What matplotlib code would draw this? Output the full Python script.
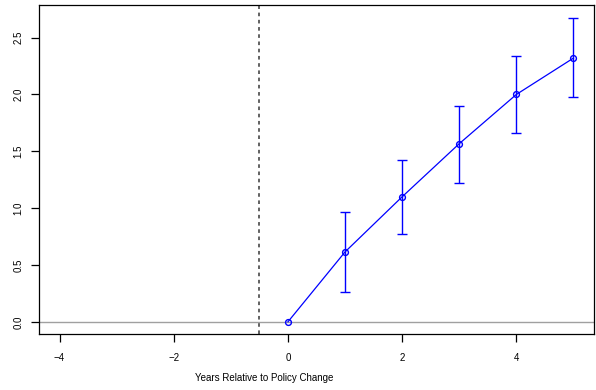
import matplotlib
matplotlib.use("Agg")
import matplotlib.pyplot as plt

plt.rcParams['font.family'] = ['Liberation Sans', 'DejaVu Sans']

# Event-study estimates by year relative to the policy change
years = [0, 1, 2, 3, 4, 5]
estimate = [0.0, 0.615, 1.10, 1.567, 2.00, 2.32]
ci_low = [None, 0.265, 0.775, 1.225, 1.66, 1.98]
ci_high = [None, 0.965, 1.425, 1.90, 2.34, 2.67]
x_ticks = [-4, -2, 0, 2, 4]
y_ticks = [0.0, 0.5, 1.0, 1.5, 2.0, 2.5]
policy_line = -0.5

fig = plt.figure(figsize=(5.96, 3.90), dpi=100)
ax = fig.add_axes([39/596, (390-334)/390, 555/596, 329/390])

ax.axhline(0, color='#a0a0a0', lw=1.0, zorder=1)
ax.axvline(policy_line, color='#555555', lw=1.3, ls=(0, (2, 2)), zorder=1)

ax.plot(years, estimate, color='blue', lw=0.9, marker='o', ms=4.2,
        mfc='none', mec='blue', mew=1.0, zorder=3)

for x, lo, hi in zip(years, ci_low, ci_high):
    if lo is None:
        continue
    ax.errorbar([x], [(lo + hi) / 2], yerr=[[(hi - lo) / 2], [(hi - lo) / 2]],
                fmt='none', ecolor='blue', elinewidth=1.0, capsize=3.5,
                capthick=1.0, zorder=2)

ax.set_xlim(-4.36, 5.36)
ax.set_ylim(-0.107, 2.787)
ax.set_xticks(x_ticks)
ax.set_xticklabels([f"{t}".replace('-', '\u2212') for t in x_ticks])
ax.set_yticks(y_ticks)
ax.set_yticklabels([f"{t:.1f}" for t in y_ticks], rotation=90, va='center')

ax.tick_params(axis='both', direction='out', length=6, width=0.9,
               labelsize=7, color='black')
ax.tick_params(axis='x', pad=8)
ax.tick_params(axis='y', pad=5)
for s in ax.spines.values():
    s.set_linewidth(0.9)

fig.text(264.5/596, 1 - 378/390, "Years Relative to Policy Change",
         fontsize=7, ha='center', va='center')

fig.savefig("out.png", dpi=100)
